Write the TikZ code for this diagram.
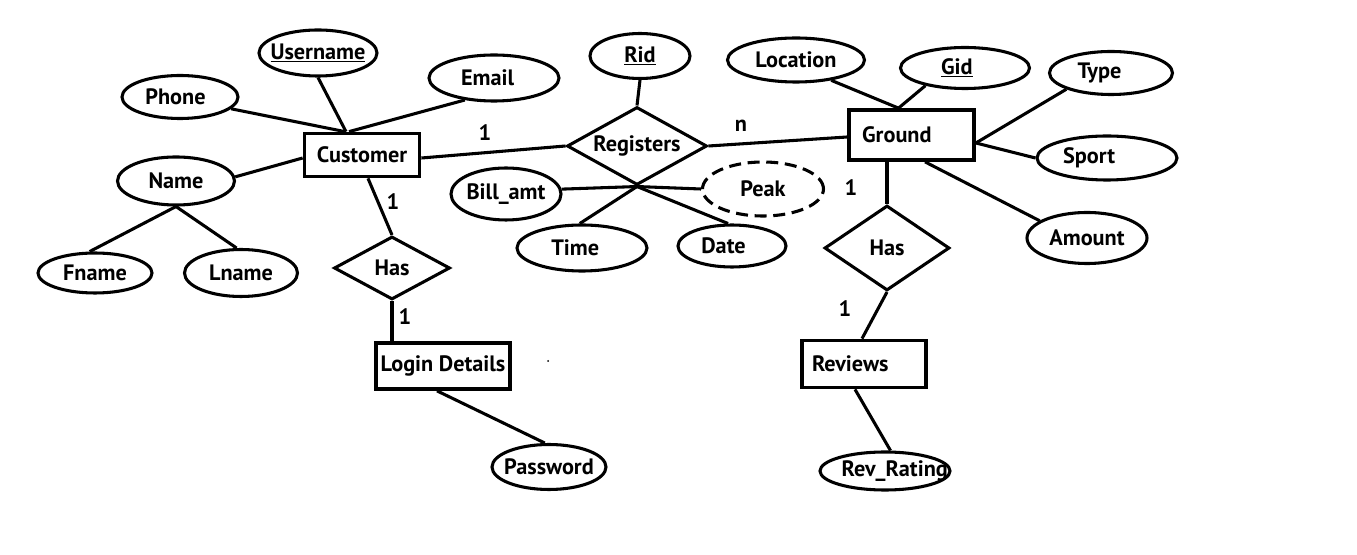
\documentclass[tikz,border=0pt]{standalone}
\usepackage{fontspec}
\setmainfont{PT Sans}
\usetikzlibrary{shapes.geometric,calc}
\newcommand\zb[1]{\makebox[0pt]{#1}}
\begin{document}
\begin{tikzpicture}[x=0.75pt,y=-0.75pt,line width=2.3pt,
  font=\fontsize{16.7}{19}\selectfont\bfseries,
  attr/.style 2 args={draw,ellipse,minimum width=#1*0.75pt,minimum height=#2*0.75pt,inner sep=0pt},
  entity/.style 2 args={draw,rectangle,line width=2.8pt,minimum width=#1*0.75pt,minimum height=#2*0.75pt,inner sep=0pt},
  rel/.style 2 args={draw,diamond,aspect=2,minimum width=#1*0.75pt,minimum height=#2*0.75pt,inner sep=0pt},
  card/.style={inner sep=0pt}]
\useasboundingbox (0,0) rectangle (1357,555);
% Customer side
\node[entity={115}{43}] (cust) at (362,155) {\zb{Customer}};
\node[attr={118}{46}] (user) at (318,53) {\zb{\underline{Username}}};
\node[attr={116}{43}] (phone) at (180,97) {\makebox[0pt][l]{\hspace{-26pt}Phone}};
\node[attr={130}{46}] (email) at (494,78) {\makebox[0pt][l]{\hspace{-24.7pt}Email}};
\node[attr={117}{48}] (name) at (176,181) {\zb{Name}};
\node[attr={114}{40}] (fname) at (95,273) {\zb{Fname}};
\node[attr={113}{47}] (lname) at (241,273) {\zb{Lname}};
\node[rel={116}{63}] (has1) at (392,268) {\zb{Has}};
\node[entity={134}{46}] (login) at (443,366) {\zb{Login Details}};
\node[attr={114}{45}] (pass) at (549,467) {\zb{Password}};
% Registers
\node[rel={140}{78}] (reg) at (637,146) {\zb{Registers}};
\node[attr={100}{45}] (rid) at (640,56) {\zb{\underline{Rid}}};
\node[attr={110}{52}] (bill) at (506,194) {\zb{Bill\_amt}};
\node[attr={121}{54},dash pattern=on 9pt off 5pt] (peak) at (763,189) {\zb{Peak}};
\node[attr={130}{46}] (time) at (582,248) {\makebox[0pt][l]{\hspace{-23pt}Time}};
\node[attr={108}{42}] (date) at (732,246) {\makebox[0pt][l]{\hspace{-23pt}Date}};
% Ground side
\node[entity={125}{50}] (ground) at (911.5,135) {\makebox[0pt][l]{\hspace{-37pt}Ground}};
\node[attr={137}{44}] (loc) at (796,60) {\zb{Location}};
\node[attr={129}{41}] (gid) at (965,68) {\makebox[0pt][l]{\hspace{-18pt}\underline{Gid}}};
\node[attr={123}{43}] (type) at (1111,73) {\makebox[0pt][l]{\hspace{-25pt}Type}};
\node[attr={140}{44}] (sport) at (1107,158) {\makebox[0pt][l]{\hspace{-33pt}Sport}};
\node[attr={120}{51}] (amount) at (1087,238) {\zb{Amount}};
\node[rel={125}{85}] (has2) at (887,248) {\zb{Has}};
\node[entity={124}{47}] (rev) at (864,364) {\makebox[0pt][l]{\hspace{-39pt}Reviews}};
\node[attr={130}{38}] (revr) at (885,471) {\makebox[0pt][l]{\hspace{-32.5pt}Rev\_Rating}};
% cardinalities
\node[card] (c1) at (485,133) {1};
\node[card] (c2) at (741,126) {n};
\node[card] (c3) at (393,202) {1};
\node[card] (c4) at (405,317) {1};
\node[card] (c5) at (851,188) {1};
\node[card] (c6) at (845,309) {1};
% connectors
\draw (phone.-13) -- ($(cust.north)+(-17,0)$);
\draw (user.south) -- ($(cust.north)+(-16,0)$);
\draw (email.217) -- ($(cust.north)+(-13,0)$);
\draw (name.4) -- ($(cust.west)+(0,3)$);
\draw (name.south) -- (fname.104);
\draw (name.south) -- (lname.100);
\draw ($(cust.east)+(0,3)$) -- (reg.west);
\draw ($(cust.south)+(6,0)$) -- (has1.north);
\draw (has1.south) -- (has1.south |- login.north);
\draw ($(login.south)+(-6,0)$) -- (pass.100);
\draw (reg.north) -- (rid.south);
\draw (reg.east) -- ($(ground.west)+(0,2)$);
\draw (bill.5) -- (reg.south);
\draw (reg.south) -- (peak.west);
\draw (time.95) -- (reg.south);
\draw (date.100) -- (reg.south);
\draw (loc.-30) -- ($(ground.north)+(-13,0)$);
\draw (gid.204) -- ($(ground.north)+(-13,0)$);
\draw (type.200) -- ($(ground.east)+(0,8)$);
\draw (sport.west) -- ($(ground.east)+(0,8)$);
\draw (amount.160) -- ($(ground.south)+(13.5,0)$);
\draw (has2.north |- ground.south) -- (has2.north);
\draw (has2.south) -- ($(rev.north)+(-2,0)$);
\draw ($(rev.south)+(-9,0)$) -- (revr.75);
\fill (548,361) circle (1);
\end{tikzpicture}
\end{document}
